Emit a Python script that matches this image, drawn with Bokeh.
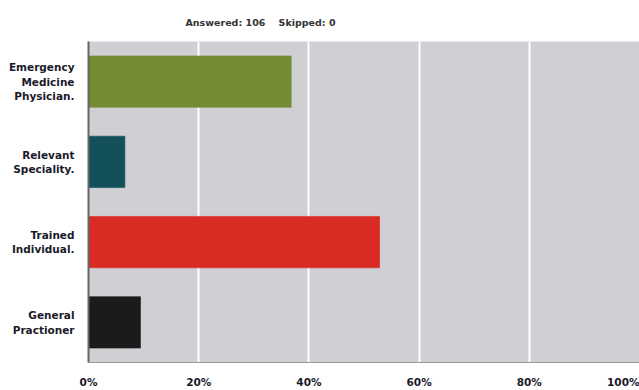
from bokeh.plotting import figure
from bokeh.models import ColumnDataSource, Title
from bokeh.embed import file_html
from bokeh.resources import INLINE

categories = ["Emergency\nMedicine\nPhysician.", "Relevant\nSpeciality.", "Trained\nIndividual.", "General\nPractioner"]
percent = [36.79, 6.60, 52.83, 9.43]
colors = ["#738c32", "#13505a", "#d92b24", "#1b1b1b"]
x_ticks = [0, 20, 40, 60, 80, 100]
x_tick_labels = {0: "0%", 20: "20%", 40: "40%", 60: "60%", 80: "80%", 100: "100%"}
title_text = "Answered: 106\u00a0\u00a0\u00a0\u00a0Skipped: 0"

src = ColumnDataSource(dict(cat=categories, pct=percent, color=colors))

p = figure(width=639, height=390, y_range=list(reversed(categories)), x_range=(0, 100),
           output_backend="svg", toolbar_location=None,
           min_border_left=88, min_border_right=0, min_border_top=40, min_border_bottom=23)

p.hbar(y="cat", right="pct", left=0, height=0.64, fill_color="color", line_color="color",
       line_alpha=0.6, source=src)

p.background_fill_color = "#d0cfd4"
p.border_fill_color = "white"
p.outline_line_color = None

p.ygrid.grid_line_color = None
p.xgrid.grid_line_color = "white"
p.xgrid.grid_line_width = 2
p.xaxis.ticker = x_ticks
p.xaxis.major_label_overrides = x_tick_labels

for ax in (p.xaxis, p.yaxis):
    ax.major_tick_line_color = None
    ax.minor_tick_line_color = None
    ax.major_label_text_font = "DejaVu Sans"
    ax.major_label_text_font_style = "bold"
    ax.major_label_text_font_size = "10.5px"
    ax.major_label_text_color = "#1a1a2a"

p.yaxis.axis_line_color = "#666666"
p.yaxis.axis_line_width = 2
p.yaxis.major_label_standoff = 8
p.xaxis.axis_line_color = "#999999"
p.xaxis.axis_line_width = 1
p.xaxis.major_label_standoff = 7

t = Title(text=title_text, align="left", offset=97, text_font="DejaVu Sans", text_font_style="bold",
          text_font_size="9.5px", text_color="#333333", standoff=28)
p.add_layout(t, "above")

open("out.html", "w").write(file_html(p, INLINE))
